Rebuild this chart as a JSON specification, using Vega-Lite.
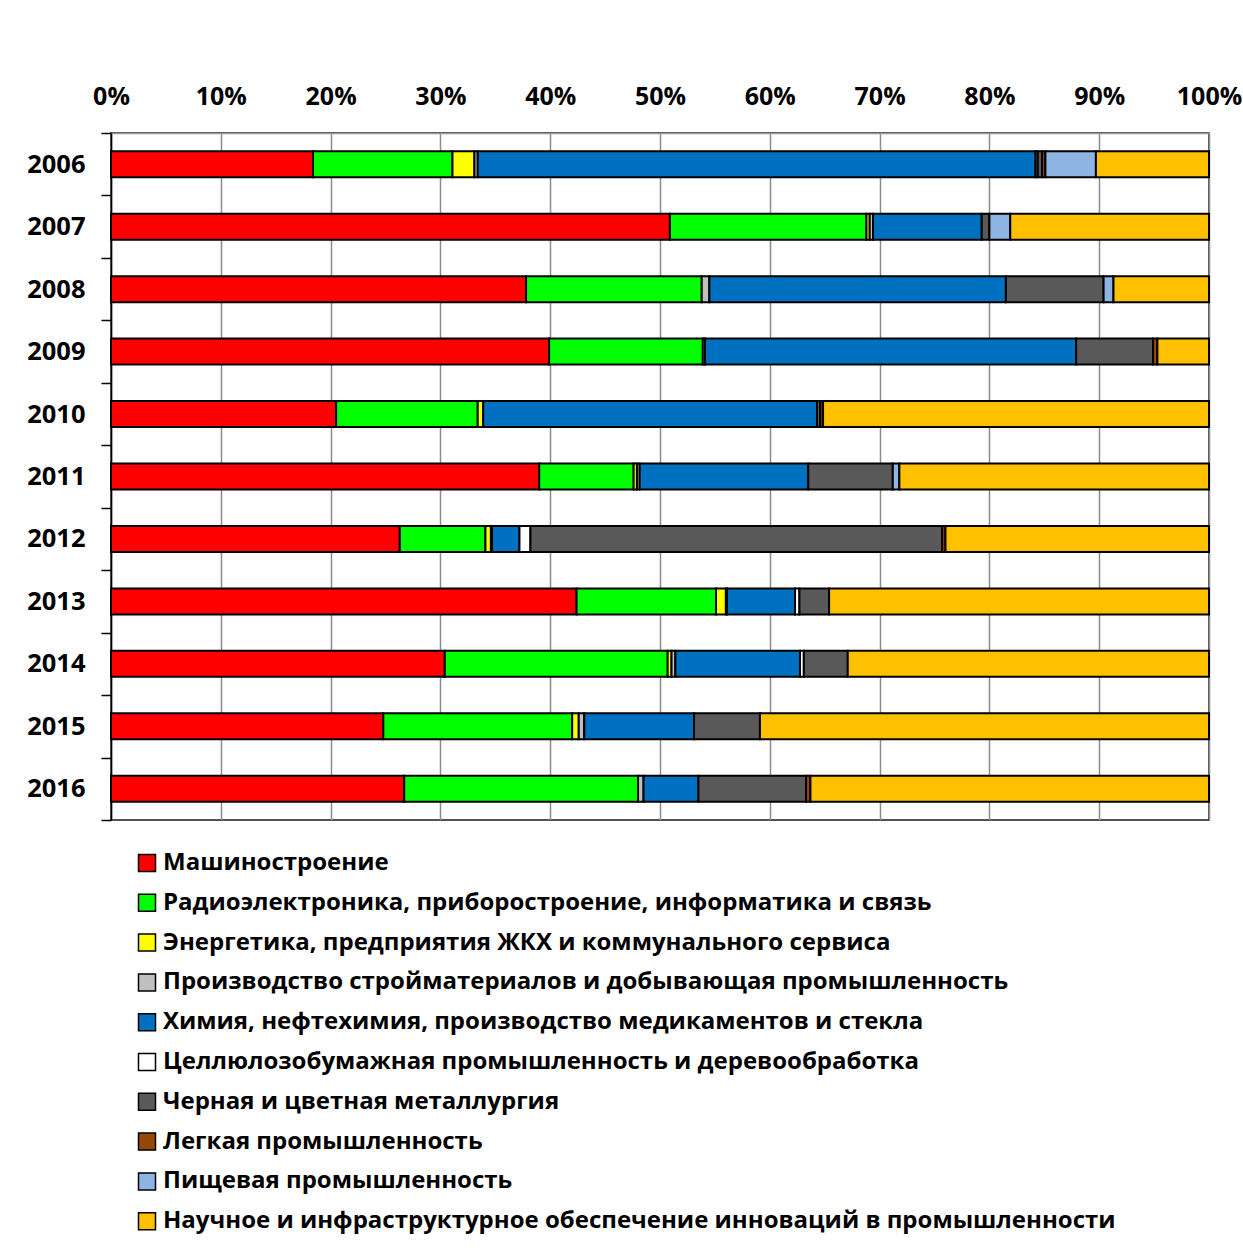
{
  "$schema": "https://vega.github.io/schema/vega-lite/v6.json",
  "width": 1098,
  "height": 687,
  "autosize": {"type": "none"},
  "padding": {"left": 111, "top": 133, "right": 34, "bottom": 430},
  "background": "#ffffff",
  "config": {
    "font": "Open Sans",
    "view": {"stroke": "#1a1a1a", "strokeWidth": 1.5}
  },
  "data": {
    "values": [
      {"year": "2006", "sector": "Машиностроение", "share": 18.4},
      {"year": "2006", "sector": "Радиоэлектроника, приборостроение, информатика и связь", "share": 12.7},
      {"year": "2006", "sector": "Энергетика, предприятия ЖКХ и коммунального сервиса", "share": 2.0},
      {"year": "2006", "sector": "Производство стройматериалов и добывающая промышленность", "share": 0.3},
      {"year": "2006", "sector": "Химия, нефтехимия, производство медикаментов и стекла", "share": 50.8},
      {"year": "2006", "sector": "Целлюлозобумажная промышленность и деревообработка", "share": 0.2},
      {"year": "2006", "sector": "Черная и цветная металлургия", "share": 0.4},
      {"year": "2006", "sector": "Легкая промышленность", "share": 0.3},
      {"year": "2006", "sector": "Пищевая промышленность", "share": 4.6},
      {"year": "2006", "sector": "Научное и инфраструктурное обеспечение инноваций в промышленности", "share": 10.3},

      {"year": "2007", "sector": "Машиностроение", "share": 50.9},
      {"year": "2007", "sector": "Радиоэлектроника, приборостроение, информатика и связь", "share": 17.9},
      {"year": "2007", "sector": "Энергетика, предприятия ЖКХ и коммунального сервиса", "share": 0.3},
      {"year": "2007", "sector": "Производство стройматериалов и добывающая промышленность", "share": 0.3},
      {"year": "2007", "sector": "Химия, нефтехимия, производство медикаментов и стекла", "share": 9.9},
      {"year": "2007", "sector": "Черная и цветная металлургия", "share": 0.7},
      {"year": "2007", "sector": "Пищевая промышленность", "share": 1.9},
      {"year": "2007", "sector": "Научное и инфраструктурное обеспечение инноваций в промышленности", "share": 18.1},

      {"year": "2008", "sector": "Машиностроение", "share": 37.8},
      {"year": "2008", "sector": "Радиоэлектроника, приборостроение, информатика и связь", "share": 16.0},
      {"year": "2008", "sector": "Производство стройматериалов и добывающая промышленность", "share": 0.7},
      {"year": "2008", "sector": "Химия, нефтехимия, производство медикаментов и стекла", "share": 27.0},
      {"year": "2008", "sector": "Черная и цветная металлургия", "share": 8.9},
      {"year": "2008", "sector": "Пищевая промышленность", "share": 0.9},
      {"year": "2008", "sector": "Научное и инфраструктурное обеспечение инноваций в промышленности", "share": 8.7},

      {"year": "2009", "sector": "Машиностроение", "share": 39.9},
      {"year": "2009", "sector": "Радиоэлектроника, приборостроение, информатика и связь", "share": 14.0},
      {"year": "2009", "sector": "Производство стройматериалов и добывающая промышленность", "share": 0.2},
      {"year": "2009", "sector": "Химия, нефтехимия, производство медикаментов и стекла", "share": 33.8},
      {"year": "2009", "sector": "Черная и цветная металлургия", "share": 7.0},
      {"year": "2009", "sector": "Легкая промышленность", "share": 0.4},
      {"year": "2009", "sector": "Научное и инфраструктурное обеспечение инноваций в промышленности", "share": 4.7},

      {"year": "2010", "sector": "Машиностроение", "share": 20.5},
      {"year": "2010", "sector": "Радиоэлектроника, приборостроение, информатика и связь", "share": 12.9},
      {"year": "2010", "sector": "Энергетика, предприятия ЖКХ и коммунального сервиса", "share": 0.5},
      {"year": "2010", "sector": "Химия, нефтехимия, производство медикаментов и стекла", "share": 30.4},
      {"year": "2010", "sector": "Черная и цветная металлургия", "share": 0.3},
      {"year": "2010", "sector": "Легкая промышленность", "share": 0.25},
      {"year": "2010", "sector": "Научное и инфраструктурное обеспечение инноваций в промышленности", "share": 35.15},

      {"year": "2011", "sector": "Машиностроение", "share": 39.0},
      {"year": "2011", "sector": "Радиоэлектроника, приборостроение, информатика и связь", "share": 8.6},
      {"year": "2011", "sector": "Энергетика, предприятия ЖКХ и коммунального сервиса", "share": 0.3},
      {"year": "2011", "sector": "Производство стройматериалов и добывающая промышленность", "share": 0.25},
      {"year": "2011", "sector": "Химия, нефтехимия, производство медикаментов и стекла", "share": 15.35},
      {"year": "2011", "sector": "Черная и цветная металлургия", "share": 7.7},
      {"year": "2011", "sector": "Пищевая промышленность", "share": 0.6},
      {"year": "2011", "sector": "Научное и инфраструктурное обеспечение инноваций в промышленности", "share": 28.2},

      {"year": "2012", "sector": "Машиностроение", "share": 26.3},
      {"year": "2012", "sector": "Радиоэлектроника, приборостроение, информатика и связь", "share": 7.8},
      {"year": "2012", "sector": "Энергетика, предприятия ЖКХ и коммунального сервиса", "share": 0.5},
      {"year": "2012", "sector": "Производство стройматериалов и добывающая промышленность", "share": 0.1},
      {"year": "2012", "sector": "Химия, нефтехимия, производство медикаментов и стекла", "share": 2.5},
      {"year": "2012", "sector": "Целлюлозобумажная промышленность и деревообработка", "share": 1.0},
      {"year": "2012", "sector": "Черная и цветная металлургия", "share": 37.5},
      {"year": "2012", "sector": "Легкая промышленность", "share": 0.3},
      {"year": "2012", "sector": "Научное и инфраструктурное обеспечение инноваций в промышленности", "share": 24.0},

      {"year": "2013", "sector": "Машиностроение", "share": 42.4},
      {"year": "2013", "sector": "Радиоэлектроника, приборостроение, информатика и связь", "share": 12.7},
      {"year": "2013", "sector": "Энергетика, предприятия ЖКХ и коммунального сервиса", "share": 0.9},
      {"year": "2013", "sector": "Производство стройматериалов и добывающая промышленность", "share": 0.1},
      {"year": "2013", "sector": "Химия, нефтехимия, производство медикаментов и стекла", "share": 6.2},
      {"year": "2013", "sector": "Целлюлозобумажная промышленность и деревообработка", "share": 0.4},
      {"year": "2013", "sector": "Черная и цветная металлургия", "share": 2.7},
      {"year": "2013", "sector": "Научное и инфраструктурное обеспечение инноваций в промышленности", "share": 34.6},

      {"year": "2014", "sector": "Машиностроение", "share": 30.4},
      {"year": "2014", "sector": "Радиоэлектроника, приборостроение, информатика и связь", "share": 20.3},
      {"year": "2014", "sector": "Энергетика, предприятия ЖКХ и коммунального сервиса", "share": 0.35},
      {"year": "2014", "sector": "Производство стройматериалов и добывающая промышленность", "share": 0.35},
      {"year": "2014", "sector": "Химия, нефтехимия, производство медикаментов и стекла", "share": 11.35},
      {"year": "2014", "sector": "Целлюлозобумажная промышленность и деревообработка", "share": 0.35},
      {"year": "2014", "sector": "Черная и цветная металлургия", "share": 4.0},
      {"year": "2014", "sector": "Научное и инфраструктурное обеспечение инноваций в промышленности", "share": 32.9},

      {"year": "2015", "sector": "Машиностроение", "share": 24.8},
      {"year": "2015", "sector": "Радиоэлектроника, приборостроение, информатика и связь", "share": 17.2},
      {"year": "2015", "sector": "Энергетика, предприятия ЖКХ и коммунального сервиса", "share": 0.6},
      {"year": "2015", "sector": "Производство стройматериалов и добывающая промышленность", "share": 0.5},
      {"year": "2015", "sector": "Химия, нефтехимия, производство медикаментов и стекла", "share": 10.0},
      {"year": "2015", "sector": "Черная и цветная металлургия", "share": 6.0},
      {"year": "2015", "sector": "Научное и инфраструктурное обеспечение инноваций в промышленности", "share": 40.9},

      {"year": "2016", "sector": "Машиностроение", "share": 26.7},
      {"year": "2016", "sector": "Радиоэлектроника, приборостроение, информатика и связь", "share": 21.3},
      {"year": "2016", "sector": "Производство стройматериалов и добывающая промышленность", "share": 0.5},
      {"year": "2016", "sector": "Химия, нефтехимия, производство медикаментов и стекла", "share": 5.0},
      {"year": "2016", "sector": "Черная и цветная металлургия", "share": 9.8},
      {"year": "2016", "sector": "Легкая промышленность", "share": 0.4},
      {"year": "2016", "sector": "Научное и инфраструктурное обеспечение инноваций в промышленности", "share": 36.3}
    ]
  },
  "transform": [
    {"calculate": "indexof(['Машиностроение','Радиоэлектроника, приборостроение, информатика и связь','Энергетика, предприятия ЖКХ и коммунального сервиса','Производство стройматериалов и добывающая промышленность','Химия, нефтехимия, производство медикаментов и стекла','Целлюлозобумажная промышленность и деревообработка','Черная и цветная металлургия','Легкая промышленность','Пищевая промышленность','Научное и инфраструктурное обеспечение инноваций в промышленности'], datum.sector)", "as": "stackOrder"}
  ],
  "mark": {"type": "bar", "stroke": "#000000", "strokeWidth": 2, "height": 26},
  "encoding": {
    "y": {
      "field": "year",
      "type": "nominal",
      "scale": {"paddingInner": 0, "paddingOuter": 0},
      "axis": {
        "title": null,
        "labelFont": "Open Sans",
        "labelFontWeight": "bold",
        "labelFontSize": 25.5,
        "labelColor": "#000000",
        "labelPadding": 16,
        "domainColor": "#000000",
        "domainWidth": 1.5,
        "tickColor": "#000000",
        "tickWidth": 1.5,
        "tickSize": 10,
        "tickBand": "extent",
        "grid": false
      }
    },
    "x": {
      "field": "share",
      "type": "quantitative",
      "stack": "normalize",
      "scale": {"domain": [0, 1]},
      "axis": {
        "orient": "top",
        "title": null,
        "format": ".0%",
        "values": [0, 0.1, 0.2, 0.3, 0.4, 0.5, 0.6, 0.7, 0.8, 0.9, 1],
        "labelOverlap": false,
        "labelFont": "Open Sans",
        "labelFontWeight": "bold",
        "labelFontSize": 25,
        "labelColor": "#000000",
        "labelPadding": 24,
        "ticks": false,
        "domainColor": "#999999",
        "domainWidth": 1.5,
        "grid": true,
        "gridColor": "#8c8c8c",
        "gridWidth": 1.5,
        "labelFlush": false
      }
    },
    "order": {"field": "stackOrder", "type": "quantitative", "sort": "ascending"},
    "color": {
      "field": "sector",
      "type": "nominal",
      "scale": {
        "domain": [
          "Машиностроение",
          "Радиоэлектроника, приборостроение, информатика и связь",
          "Энергетика, предприятия ЖКХ и коммунального сервиса",
          "Производство стройматериалов и добывающая промышленность",
          "Химия, нефтехимия, производство медикаментов и стекла",
          "Целлюлозобумажная промышленность и деревообработка",
          "Черная и цветная металлургия",
          "Легкая промышленность",
          "Пищевая промышленность",
          "Научное и инфраструктурное обеспечение инноваций в промышленности"
        ],
        "range": ["#FF0000", "#00FF00", "#FFFF00", "#C0C0C0", "#0070C0", "#FFFFFF", "#595959", "#974706", "#8DB4E2", "#FFC000"]
      },
      "legend": {
        "title": null,
        "orient": "none",
        "legendX": 24,
        "legendY": 718,
        "direction": "vertical",
        "columns": 1,
        "symbolType": "square",
        "symbolSize": 289,
        "symbolStrokeColor": "#000000",
        "symbolStrokeWidth": 1.5,
        "symbolOpacity": 1,
        "labelFont": "Open Sans",
        "labelFontWeight": "bold",
        "labelFontSize": 24,
        "labelColor": "#000000",
        "labelLimit": 0,
        "labelOffset": 4,
        "rowPadding": 15.8
      }
    }
  }
}
